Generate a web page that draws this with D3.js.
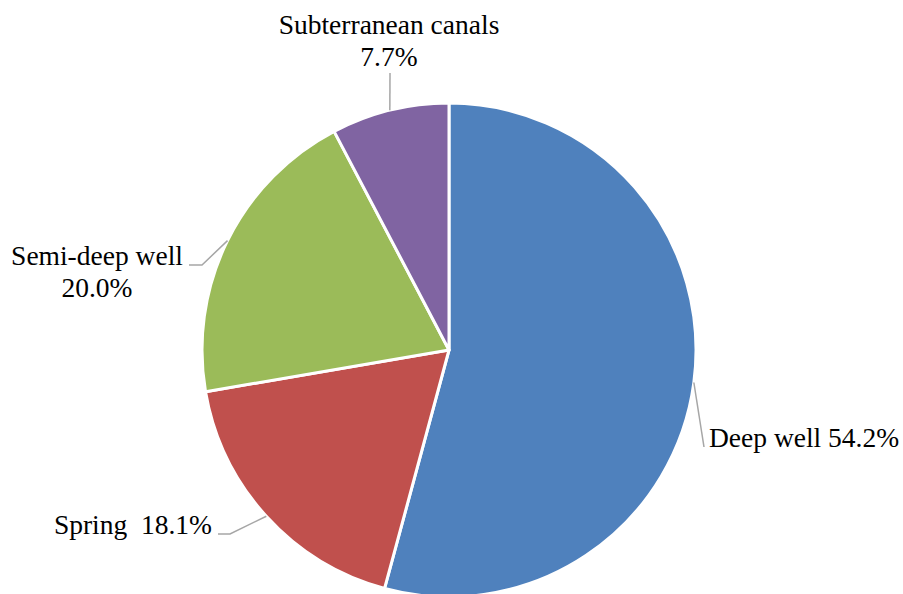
<!DOCTYPE html>
<html>
<head>
<meta charset="utf-8">
<script src="https://cdn.jsdelivr.net/npm/d3@7"></script>
<style>
  body { margin: 0; background: #fff; }
  svg { display: block; }
</style>
</head>
<body>
<div id="chart"></div>
<script>
// data
const categories = ['Deep well', 'Spring', 'Semi-deep well', 'Subterranean canals'];
const shares = [54.2, 18.1, 20.0, 7.7];
const labelLines = [
    ['Deep well 54.2%'],
    ['Spring  18.1%'],
    ['Semi-deep well', '20.0%'],
    ['Subterranean canals', '7.7%']
];
const colors = ['#4F81BD', '#C0504D', '#9BBB59', '#8064A2'];

// label placement relative to pie centre (leader path after the arc point, text anchor)
const labelLayout = [
    { path: [[255, 97]], text: [260, 97], anchor: 'start' },
    { path: [[-219, 184], [-231, 184]], text: [-237, 184], anchor: 'end' },
    { path: [[-247, -85], [-260, -85]], text: [-352, -85], anchor: 'middle' },
    { path: [[-59, -277]], text: [-60, -316], anchor: 'middle' }
];

const width = 903;
const height = 594;
const cx = 449, cy = 350, radius = 247;
const lineHeight = 32;
const fontFamily = '"Liberation Serif", "DejaVu Serif", serif';

const svg = d3.select('#chart')
    .append('svg')
    .attr('width', width)
    .attr('height', height);

const g = svg.append('g').attr('transform', `translate(${cx}, ${cy})`);

const pie = d3.pie().sort(null).value((d) => d.value);
const arcs = pie(categories.map((c, i) => ({ name: c, value: shares[i], i })));

const arc = d3.arc().innerRadius(0).outerRadius(radius);

g.selectAll('path.slice')
    .data(arcs)
    .join('path')
    .attr('class', 'slice')
    .attr('d', arc)
    .attr('fill', (d) => colors[d.data.i])
    .attr('stroke', '#fff')
    .attr('stroke-width', 3)
    .attr('stroke-linejoin', 'round');

// leader lines start on the rim at the slice's mid angle
function rimPoint(d) {
    const a = (d.startAngle + d.endAngle) / 2;
    return [radius * Math.sin(a), -radius * Math.cos(a)];
}

g.selectAll('path.leader')
    .data(arcs)
    .join('path')
    .attr('class', 'leader')
    .attr('d', (d) => d3.line()([rimPoint(d), ...labelLayout[d.data.i].path]))
    .attr('fill', 'none')
    .attr('stroke', '#A6A6A6')
    .attr('stroke-width', 1.5);

const labels = g.selectAll('text.label')
    .data(arcs)
    .join('text')
    .attr('class', 'label')
    .attr('x', (d) => labelLayout[d.data.i].text[0])
    .attr('y', (d) => labelLayout[d.data.i].text[1])
    .attr('text-anchor', (d) => labelLayout[d.data.i].anchor)
    .style('font-family', fontFamily)
    .style('font-size', '27.5px')
    .style('fill', '#000')
    .style('white-space', 'pre');

labels.each(function (d) {
    const lay = labelLayout[d.data.i];
    d3.select(this).selectAll('tspan')
        .data(labelLines[d.data.i])
        .join('tspan')
        .attr('x', lay.text[0])
        .attr('dy', (t, j) => (j === 0 ? 0 : lineHeight))
        .text((t) => t);
});
</script>
</body>
</html>
